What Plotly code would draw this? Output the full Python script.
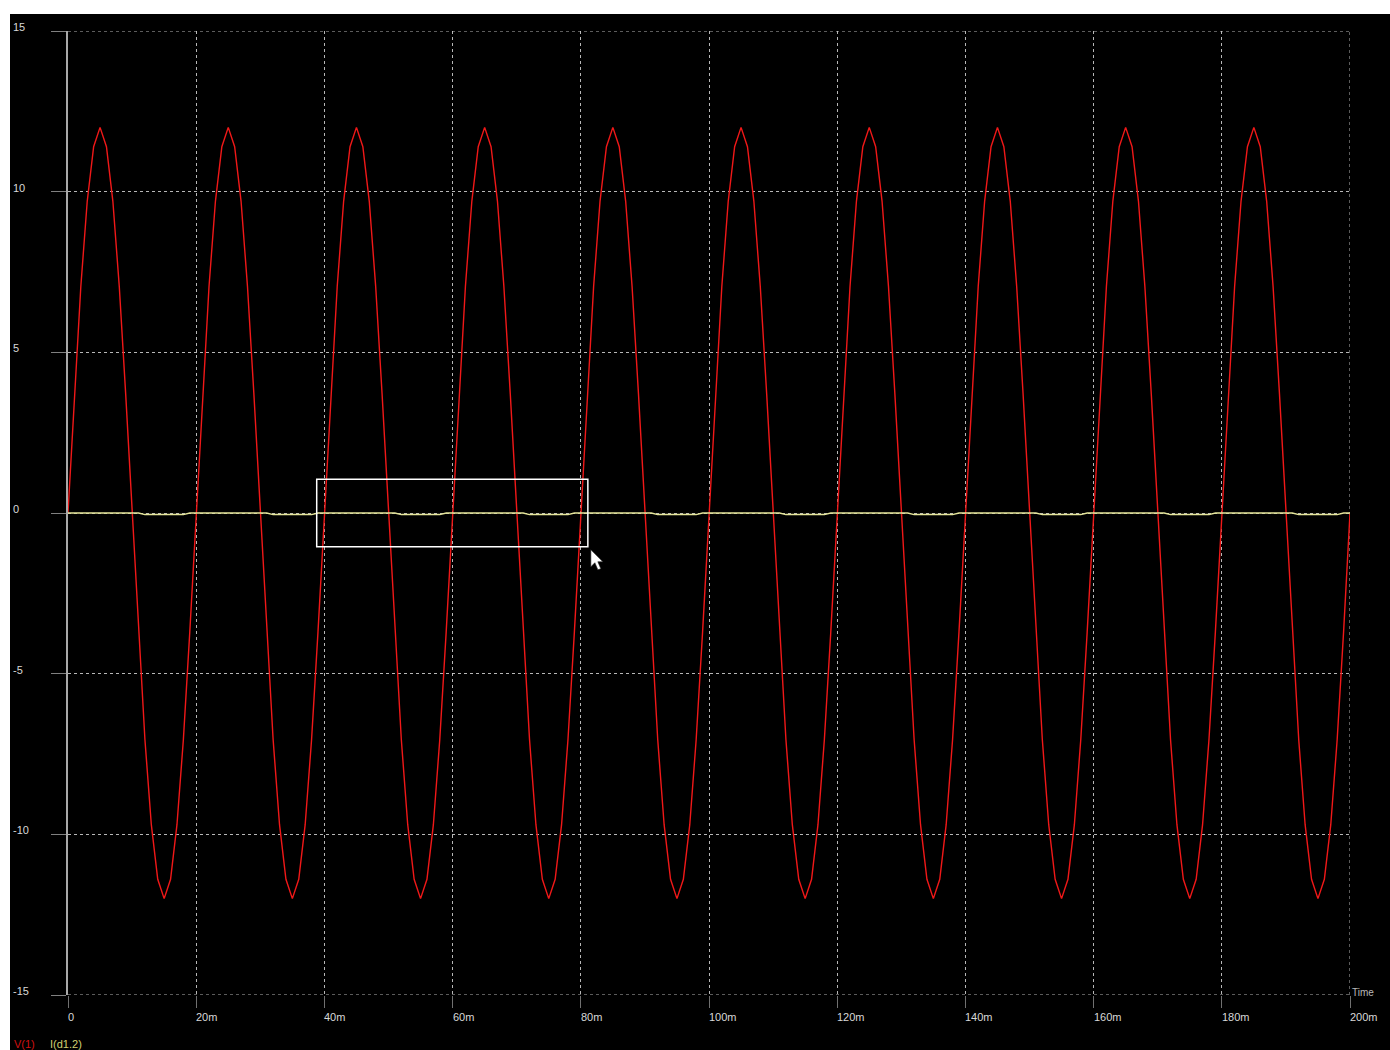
import plotly.graph_objects as go

# ---------------- data ----------------
# simulation time points in ms
time_ms = [
    0, 1, 2, 3, 4, 5, 6, 7, 8, 9, 10, 11, 12, 13, 14, 15, 16, 17, 18, 19,
    20, 21, 22, 23, 24, 25, 26, 27, 28, 29, 30, 31, 32, 33, 34, 35, 36, 37, 38, 39,
    40, 41, 42, 43, 44, 45, 46, 47, 48, 49, 50, 51, 52, 53, 54, 55, 56, 57, 58, 59,
    60, 61, 62, 63, 64, 65, 66, 67, 68, 69, 70, 71, 72, 73, 74, 75, 76, 77, 78, 79,
    80, 81, 82, 83, 84, 85, 86, 87, 88, 89, 90, 91, 92, 93, 94, 95, 96, 97, 98, 99,
    100, 101, 102, 103, 104, 105, 106, 107, 108, 109, 110, 111, 112, 113, 114, 115, 116, 117, 118, 119,
    120, 121, 122, 123, 124, 125, 126, 127, 128, 129, 130, 131, 132, 133, 134, 135, 136, 137, 138, 139,
    140, 141, 142, 143, 144, 145, 146, 147, 148, 149, 150, 151, 152, 153, 154, 155, 156, 157, 158, 159,
    160, 161, 162, 163, 164, 165, 166, 167, 168, 169, 170, 171, 172, 173, 174, 175, 176, 177, 178, 179,
    180, 181, 182, 183, 184, 185, 186, 187, 188, 189, 190, 191, 192, 193, 194, 195, 196, 197, 198, 199,
    200,
]

# V(1) voltage (V)
v1 = [
    0.0, 3.7, 7.05, 9.7, 11.4, 12.0, 11.4, 9.7, 7.05, 3.7, 0.0, -3.7, -7.05, -9.7, -11.4, -12.0, -11.4, -9.7, -7.05, -3.7,
    0.0, 3.7, 7.05, 9.7, 11.4, 12.0, 11.4, 9.7, 7.05, 3.7, 0.0, -3.7, -7.05, -9.7, -11.4, -12.0, -11.4, -9.7, -7.05, -3.7,
    0.0, 3.7, 7.05, 9.7, 11.4, 12.0, 11.4, 9.7, 7.05, 3.7, 0.0, -3.7, -7.05, -9.7, -11.4, -12.0, -11.4, -9.7, -7.05, -3.7,
    0.0, 3.7, 7.05, 9.7, 11.4, 12.0, 11.4, 9.7, 7.05, 3.7, 0.0, -3.7, -7.05, -9.7, -11.4, -12.0, -11.4, -9.7, -7.05, -3.7,
    0.0, 3.7, 7.05, 9.7, 11.4, 12.0, 11.4, 9.7, 7.05, 3.7, 0.0, -3.7, -7.05, -9.7, -11.4, -12.0, -11.4, -9.7, -7.05, -3.7,
    0.0, 3.7, 7.05, 9.7, 11.4, 12.0, 11.4, 9.7, 7.05, 3.7, 0.0, -3.7, -7.05, -9.7, -11.4, -12.0, -11.4, -9.7, -7.05, -3.7,
    0.0, 3.7, 7.05, 9.7, 11.4, 12.0, 11.4, 9.7, 7.05, 3.7, 0.0, -3.7, -7.05, -9.7, -11.4, -12.0, -11.4, -9.7, -7.05, -3.7,
    0.0, 3.7, 7.05, 9.7, 11.4, 12.0, 11.4, 9.7, 7.05, 3.7, 0.0, -3.7, -7.05, -9.7, -11.4, -12.0, -11.4, -9.7, -7.05, -3.7,
    0.0, 3.7, 7.05, 9.7, 11.4, 12.0, 11.4, 9.7, 7.05, 3.7, 0.0, -3.7, -7.05, -9.7, -11.4, -12.0, -11.4, -9.7, -7.05, -3.7,
    0.0, 3.7, 7.05, 9.7, 11.4, 12.0, 11.4, 9.7, 7.05, 3.7, 0.0, -3.7, -7.05, -9.7, -11.4, -12.0, -11.4, -9.7, -7.05, -3.7,
    0.0,
]

# I(d1.2) diode current (A) - small dips during negative half cycles
i_d12 = [
    0, 0, 0, 0, 0, 0, 0, 0, 0, 0, 0, 0, -0.05, -0.05, -0.05, -0.05, -0.05, -0.05, -0.05, 0,
    0, 0, 0, 0, 0, 0, 0, 0, 0, 0, 0, 0, -0.05, -0.05, -0.05, -0.05, -0.05, -0.05, -0.05, 0,
    0, 0, 0, 0, 0, 0, 0, 0, 0, 0, 0, 0, -0.05, -0.05, -0.05, -0.05, -0.05, -0.05, -0.05, 0,
    0, 0, 0, 0, 0, 0, 0, 0, 0, 0, 0, 0, -0.05, -0.05, -0.05, -0.05, -0.05, -0.05, -0.05, 0,
    0, 0, 0, 0, 0, 0, 0, 0, 0, 0, 0, 0, -0.05, -0.05, -0.05, -0.05, -0.05, -0.05, -0.05, 0,
    0, 0, 0, 0, 0, 0, 0, 0, 0, 0, 0, 0, -0.05, -0.05, -0.05, -0.05, -0.05, -0.05, -0.05, 0,
    0, 0, 0, 0, 0, 0, 0, 0, 0, 0, 0, 0, -0.05, -0.05, -0.05, -0.05, -0.05, -0.05, -0.05, 0,
    0, 0, 0, 0, 0, 0, 0, 0, 0, 0, 0, 0, -0.05, -0.05, -0.05, -0.05, -0.05, -0.05, -0.05, 0,
    0, 0, 0, 0, 0, 0, 0, 0, 0, 0, 0, 0, -0.05, -0.05, -0.05, -0.05, -0.05, -0.05, -0.05, 0,
    0, 0, 0, 0, 0, 0, 0, 0, 0, 0, 0, 0, -0.05, -0.05, -0.05, -0.05, -0.05, -0.05, -0.05, 0,
    0,
]

x_ticks = [0, 20, 40, 60, 80, 100, 120, 140, 160, 180, 200]
x_labels = ["0", "20m", "40m", "60m", "80m", "100m", "120m", "140m", "160m", "180m", "200m"]
y_ticks = [-15, -10, -5, 0, 5, 10, 15]
y_labels = ["-15", "-10", "-5", "0", "5", "10", "15"]

series_names = ["V(1)", "I(d1.2)"]

# zoom-selection rectangle drawn by the user
box_t = [38.8, 81.1]
box_v = [-1.05, 1.05]

# ---------------- figure ----------------
W, H = 1390, 1050
ML, MR, MT, MB = 68, 40, 31, 55
PW, PH = W - ML - MR, H - MT - MB

def px_x(p):
    return (p - ML) / PW

def px_y(p):
    return (H - MB - p) / PH

RED = "#f01818"
YEL = "#e6e69a"
TXT = "#d8d8d8"
GRID = "rgba(215,215,215,0.85)"
FONT = "Liberation Sans"
FS = 11

fig = go.Figure()
fig.add_trace(go.Scatter(x=time_ms, y=v1, mode="lines", name=series_names[0],
                         line=dict(color=RED, width=1.4), hoverinfo="skip"))
fig.add_trace(go.Scatter(x=time_ms, y=i_d12, mode="lines", name=series_names[1],
                         line=dict(color=YEL, width=1.5), hoverinfo="skip"))

shapes = [
    # black display area (white strip on top and left remains)
    dict(type="rect", xref="paper", yref="paper", layer="below",
         x0=px_x(10), x1=px_x(W + 5), y0=px_y(H + 5), y1=px_y(14),
         fillcolor="black", line=dict(width=0)),
    # dotted frame top / bottom / right
    dict(type="line", xref="x", yref="y", x0=0, x1=200, y0=15, y1=15,
         line=dict(color=GRID, width=1, dash="dot"), layer="below"),
    dict(type="line", xref="x", yref="y", x0=0, x1=200, y0=-15, y1=-15,
         line=dict(color=GRID, width=1, dash="dot"), layer="below"),
    dict(type="line", xref="x", yref="y", x0=200, x1=200, y0=-15, y1=15,
         line=dict(color=GRID, width=1, dash="dot"), layer="below"),
    # selection rectangle
    dict(type="rect", xref="x", yref="y", x0=box_t[0], x1=box_t[1], y0=box_v[0], y1=box_v[1],
         line=dict(color="white", width=1.5), fillcolor="rgba(0,0,0,0)"),
    # mouse cursor at the rectangle corner
    dict(type="path", xref="x", yref="y", xsizemode="pixel", ysizemode="pixel",
         xanchor=box_t[1], yanchor=box_v[0],
         path="M 3,-3 L 3,-20 L 7,-16 L 10,-23 L 13,-22 L 10,-15 L 15,-15 Z",
         fillcolor="white", line=dict(color="#202020", width=0.6)),
]

annotations = []
for t, lab in zip(x_ticks, x_labels):
    annotations.append(dict(x=t, xref="x", y=0, yref="paper", text=lab, showarrow=False,
                            xanchor="left", yanchor="middle", xshift=-2, yshift=-22,
                            font=dict(family=FONT, size=FS, color=TXT)))
for v, lab in zip(y_ticks, y_labels):
    annotations.append(dict(x=px_x(11), xref="paper", y=v, yref="y", text=lab, showarrow=False,
                            xanchor="left", yanchor="middle", yshift=4,
                            font=dict(family=FONT, size=FS, color=TXT)))
annotations.append(dict(x=200, xref="x", y=-15, yref="y", text="Time", showarrow=False,
                        xanchor="left", yanchor="middle", xshift=0, yshift=3,
                        font=dict(family=FONT, size=10, color="#b8b8b8")))
annotations.append(dict(x=px_x(12), xref="paper", y=px_y(1044), yref="paper", text=series_names[0],
                        showarrow=False, xanchor="left", yanchor="middle",
                        font=dict(family=FONT, size=FS, color="#d01010")))
annotations.append(dict(x=px_x(48), xref="paper", y=px_y(1044), yref="paper", text=series_names[1],
                        showarrow=False, xanchor="left", yanchor="middle",
                        font=dict(family=FONT, size=FS, color="#d0d070")))

fig.update_layout(
    width=W, height=H,
    margin=dict(l=ML, r=MR, t=MT, b=MB, pad=0),
    paper_bgcolor="white",
    plot_bgcolor="black",
    showlegend=False,
    shapes=shapes,
    annotations=annotations,
    xaxis=dict(range=[0, 200], tickvals=x_ticks, showticklabels=False,
               showgrid=True, gridcolor=GRID, gridwidth=1, griddash="dot",
               ticks="outside", ticklen=12, tickcolor="#707070", tickwidth=1,
               zeroline=False, showline=False, fixedrange=True),
    yaxis=dict(range=[-15, 15], tickvals=y_ticks, showticklabels=False,
               showgrid=True, gridcolor=GRID, gridwidth=1, griddash="dot",
               ticks="outside", ticklen=15, tickcolor="#808080", tickwidth=1,
               zeroline=False, showline=True, linecolor="#a8a8a8", linewidth=1.5,
               fixedrange=True),
)

fig.write_html("out.html", post_script="document.body.style.margin='0';",
               config={"displayModeBar": False})
